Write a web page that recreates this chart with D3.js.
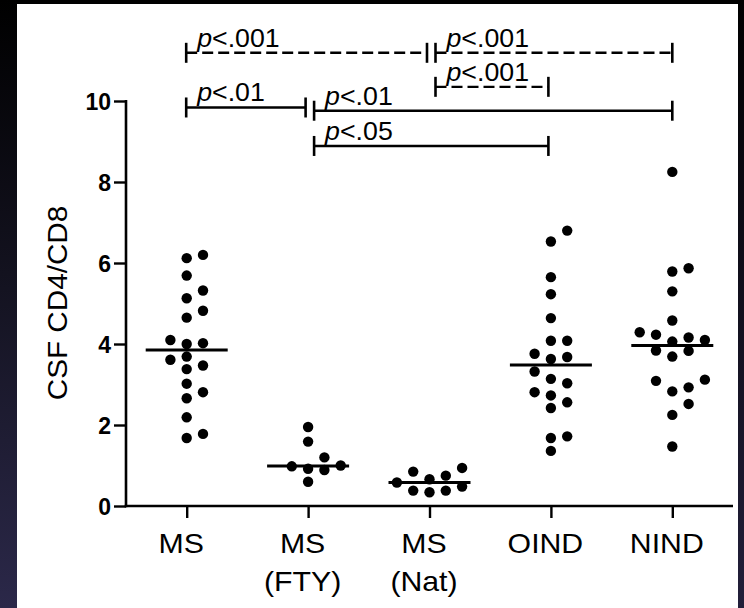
<!DOCTYPE html>
<html>
<head>
<meta charset="utf-8">
<script src="https://cdn.jsdelivr.net/npm/d3@7"></script>
<style>
  html, body { margin: 0; padding: 0; background: #000; }
  svg { display: block; }
</style>
</head>
<body>
<svg id="chart" width="744" height="608"></svg>
<script>
// ---------------- data ----------------
const groups = ["MS", "MS (FTY)", "MS (Nat)", "OIND", "NIND"];
const groupLabels = [["MS"], ["MS", "(FTY)"], ["MS", "(Nat)"], ["OIND"], ["NIND"]];

const msValues   = [6.20, 6.12, 5.69, 5.32, 5.13, 4.82, 4.65, 4.10, 4.02, 4.00,
                    3.69, 3.61, 3.47, 3.38, 3.02, 2.81, 2.66, 2.19, 1.78, 1.68];
const ftyValues  = [1.95, 1.59, 1.20, 1.00, 0.98, 0.92, 0.89, 0.60];
const natValues  = [0.94, 0.85, 0.75, 0.66, 0.58, 0.48, 0.38, 0.38, 0.34];
const oindValues = [6.80, 6.53, 5.65, 5.23, 4.64, 4.08, 4.08, 3.76, 3.68, 3.63,
                    3.32, 3.14, 3.03, 2.81, 2.73, 2.56, 2.42, 1.72, 1.68, 1.36];
const nindValues = [8.25, 5.87, 5.79, 5.30, 4.58, 4.29, 4.23, 4.16, 4.10, 4.06,
                    3.84, 3.83, 3.69, 3.12, 3.09, 2.93, 2.83, 2.52, 2.25, 1.47];
const seriesValues = [msValues, ftyValues, natValues, oindValues, nindValues];

const medians = [3.85, 0.99, 0.58, 3.48, 3.96];

const yTicks = [0, 2, 4, 6, 8, 10];
const yTitle = "CSF CD4/CD8";

// significance brackets: from group index, to group index, height (data units), p label, dashed
const bracketFrom   = [0, 2, 2, 0, 1, 1];
const bracketTo     = [2, 4, 3, 1, 4, 3];
const bracketLevel  = [11.19, 11.19, 10.35, 9.84, 9.76, 8.89];
const bracketP      = ["<.001", "<.001", "<.001", "<.01", "<.01", "<.05"];
const bracketDashed = [true, true, true, false, false, false];

// ---------------- drawing ----------------
const svg = d3.select("#chart");
const W = 744, H = 608;
const FONT = "'Liberation Sans', Arial, Helvetica, sans-serif";

// background frame
const defs = svg.append("defs");
const gl = defs.append("linearGradient").attr("id", "edgeL").attr("x1", 0).attr("y1", 0).attr("x2", 0).attr("y2", 1);
gl.append("stop").attr("offset", "0%").attr("stop-color", "#000000");
gl.append("stop").attr("offset", "45%").attr("stop-color", "#13121f");
gl.append("stop").attr("offset", "100%").attr("stop-color", "#2b2849");
const gr = defs.append("linearGradient").attr("id", "edgeR").attr("x1", 0).attr("y1", 0).attr("x2", 0).attr("y2", 1);
gr.append("stop").attr("offset", "0%").attr("stop-color", "#000000");
gr.append("stop").attr("offset", "100%").attr("stop-color", "#221f3a");

svg.append("rect").attr("width", W).attr("height", H).attr("fill", "#000");
svg.append("rect").attr("x", 0).attr("y", 0).attr("width", 17).attr("height", H).attr("fill", "url(#edgeL)");
svg.append("rect").attr("x", 738).attr("y", 0).attr("width", 6).attr("height", H).attr("fill", "url(#edgeR)");
svg.append("rect").attr("x", 17).attr("y", 4).attr("width", 721).attr("height", H - 4).attr("fill", "#fff");

// scales
const x = d3.scalePoint().domain(groups).range([126, 733]).padding(0.5);
const y = d3.scaleLinear().domain([0, 10]).range([506, 101]);

// y axis
const yAxis = svg.append("g")
  .attr("transform", `translate(${x.range()[0]},0)`)
  .call(d3.axisLeft(y).tickValues(yTicks).tickSize(12).tickSizeOuter(0).tickPadding(3));
yAxis.select(".domain").attr("stroke", "#000").attr("stroke-width", 2.6)
  .attr("d", `M0,${y(10) - 1}V${y(0) + 1.3}`);
yAxis.selectAll(".tick line").attr("stroke", "#000").attr("stroke-width", 2.4);
yAxis.selectAll(".tick text")
  .attr("font-family", FONT).attr("font-size", 23).attr("font-weight", "bold")
  .attr("fill", "#000").attr("dy", "0.36em");

// x axis
const xAxis = svg.append("g")
  .attr("transform", `translate(0,${y(0)})`)
  .call(d3.axisBottom(x).tickSize(12).tickSizeOuter(0).tickFormat(""));
xAxis.select(".domain").attr("stroke", "#000").attr("stroke-width", 2.6)
  .attr("d", `M${x.range()[0] - 1.3},0H${x.range()[1]}`);
xAxis.selectAll(".tick line").attr("stroke", "#000").attr("stroke-width", 2.4);
xAxis.selectAll(".tick").each(function (d, i) {
  const lines = groupLabels[i];
  const t = d3.select(this).append("text")
    .attr("font-family", FONT).attr("font-size", 28).attr("fill", "#000")
    .attr("text-anchor", "middle")
    .attr("transform", "translate(-6,0) scale(1.08,1)");
  lines.forEach((s, k) => {
    t.append("tspan").attr("x", 0).attr("y", 47 + k * 38).text(s);
  });
});

// y axis title
svg.append("text")
  .attr("transform", "translate(66.5,303) rotate(-90) scale(1.06,1)")
  .attr("text-anchor", "middle")
  .attr("font-family", FONT).attr("font-size", 28).attr("fill", "#000")
  .text(yTitle);

// beeswarm-style layout of points (dodge into columns)
const laneStep = 16.3, minDist = 12.5, r = 5.2;
function dodge(values, cx) {
  const placed = [];
  const order = values.map((v, i) => i).sort((a, b) => values[a] - values[b]);
  const out = new Array(values.length);
  const lanes = [0, 1, -1, 2, -2, 3, -3, 4, -4];
  order.forEach(i => {
    const py = y(values[i]);
    for (const k of lanes) {
      const px = cx + k * laneStep;
      if (placed.every(p => Math.hypot(p[0] - px, p[1] - py) >= minDist)) {
        placed.push([px, py]);
        out[i] = [px, py];
        break;
      }
    }
  });
  return out;
}

const plot = svg.append("g");
seriesValues.forEach((vals, gi) => {
  const cx = x(groups[gi]);
  const pts = dodge(vals, cx);
  plot.append("g").selectAll("circle").data(pts).join("circle")
    .attr("cx", d => d[0]).attr("cy", d => d[1]).attr("r", r).attr("fill", "#000");
  plot.append("line")
    .attr("x1", cx - 41).attr("x2", cx + 41)
    .attr("y1", y(medians[gi])).attr("y2", y(medians[gi]))
    .attr("stroke", "#000").attr("stroke-width", 3);
});

// significance brackets
const br = svg.append("g");
bracketFrom.forEach((f, i) => {
  const t = bracketTo[i];
  const x1 = x(groups[f]) + (f > 0 ? 6 : -0.5);
  const x2 = x(groups[t]) - (t < groups.length - 1 ? 2.5 : 0);
  const yy = y(bracketLevel[i]);
  const g = br.append("g");
  g.append("line").attr("x1", x1).attr("x2", x2).attr("y1", yy).attr("y2", yy)
    .attr("stroke", "#000").attr("stroke-width", 2.4)
    .attr("stroke-dasharray", bracketDashed[i] ? "11,5" : null);
  [x1, x2].forEach(xx => {
    g.append("line").attr("x1", xx).attr("x2", xx).attr("y1", yy - 10).attr("y2", yy + 10)
      .attr("stroke", "#000").attr("stroke-width", 2.6);
  });
  const tx = g.append("text")
    .attr("transform", `translate(${x1 + 11},${yy - 6}) scale(1.07,1)`)
    .attr("font-family", FONT).attr("font-size", 25).attr("fill", "#000");
  tx.append("tspan").attr("font-style", "italic").text("p");
  tx.append("tspan").text(bracketP[i]);
});
</script>
</body>
</html>
